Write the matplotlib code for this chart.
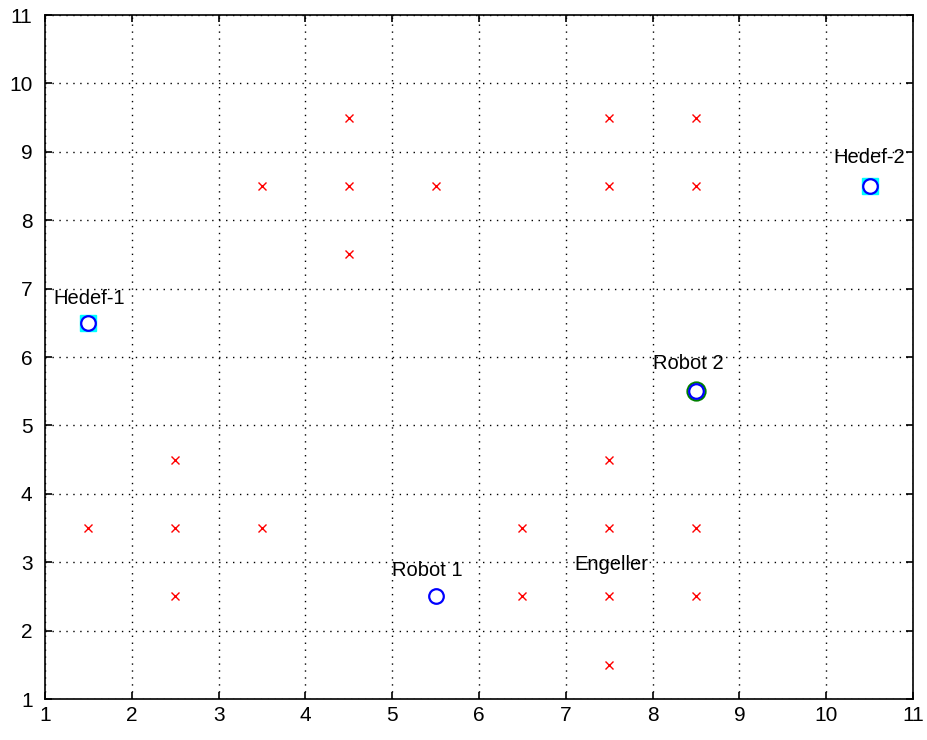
import matplotlib
matplotlib.use("Agg")
import matplotlib.pyplot as plt

# Obstacle cells (centers)
obstacle_x = [1.5, 2.5, 2.5, 2.5, 3.5, 3.5, 4.5, 4.5, 4.5, 5.5, 6.5,
              6.5, 7.5, 7.5, 7.5, 7.5, 7.5, 7.5, 8.5, 8.5, 8.5, 8.5]
obstacle_y = [3.5, 2.5, 3.5, 4.5, 3.5, 8.5, 7.5, 8.5, 9.5, 8.5, 2.5,
              3.5, 1.5, 2.5, 3.5, 4.5, 8.5, 9.5, 2.5, 3.5, 8.5, 9.5]

# Targets and robots
target_x = [1.5, 10.5]
target_y = [6.5, 8.5]
robot_x = [5.5, 8.5]
robot_y = [2.5, 5.5]

labels = ["Hedef-1", "Hedef-2", "Robot 1", "Robot 2", "Engeller"]
label_x = [1.1, 10.08, 5.0, 8.0, 7.1]
label_y = [6.85, 8.92, 2.88, 5.9, 2.97]

ticks = list(range(1, 12))

fig = plt.figure(figsize=(9.28, 7.40), dpi=100)
ax = fig.add_axes([0.0485, 0.0554, 0.9353, 0.9243])

ax.plot(obstacle_x, obstacle_y, linestyle="none", marker="x", color="#ff0000",
        markersize=5.5, markeredgewidth=1.0)

# Targets: cyan square under a blue circle
ax.plot(target_x, target_y, linestyle="none", marker="s", markersize=12,
        markerfacecolor="#00ffff", markeredgecolor="#00ffff")
ax.plot(target_x, target_y, linestyle="none", marker="o", markersize=10.5,
        markerfacecolor="white", markeredgecolor="#0000ff", markeredgewidth=1.6)

# Second robot has a green ring around it
ax.plot([robot_x[1]], [robot_y[1]], linestyle="none", marker="o", markersize=13,
        markerfacecolor="white", markeredgecolor="#008000", markeredgewidth=1.6)
ax.plot(robot_x, robot_y, linestyle="none", marker="o", markersize=10.5,
        markerfacecolor="white", markeredgecolor="#0000ff", markeredgewidth=1.6)

for t, x, y in zip(labels, label_x, label_y):
    ax.text(x, y, t, ha="left", va="center", fontsize=14.5,
            family="Liberation Sans", color="black")

ax.set_xlim(1, 11)
ax.set_ylim(1, 11)
ax.set_xticks(ticks)
ax.set_yticks(ticks)
ax.set_xticklabels([str(t) for t in ticks], fontsize=15, family="Liberation Sans")
ax.set_yticklabels([str(t) for t in ticks], fontsize=15, family="Liberation Sans")
ax.tick_params(direction="in", top=True, right=True, length=5, width=1.2)
ax.tick_params(axis="y", pad=9)
ax.tick_params(axis="x", pad=5)
ax.grid(True, linestyle=(0, (1, 4)), color="black", linewidth=1.0)
for s in ax.spines.values():
    s.set_linewidth(1.2)
    s.set_color("black")

fig.savefig("out.png", dpi=100)
